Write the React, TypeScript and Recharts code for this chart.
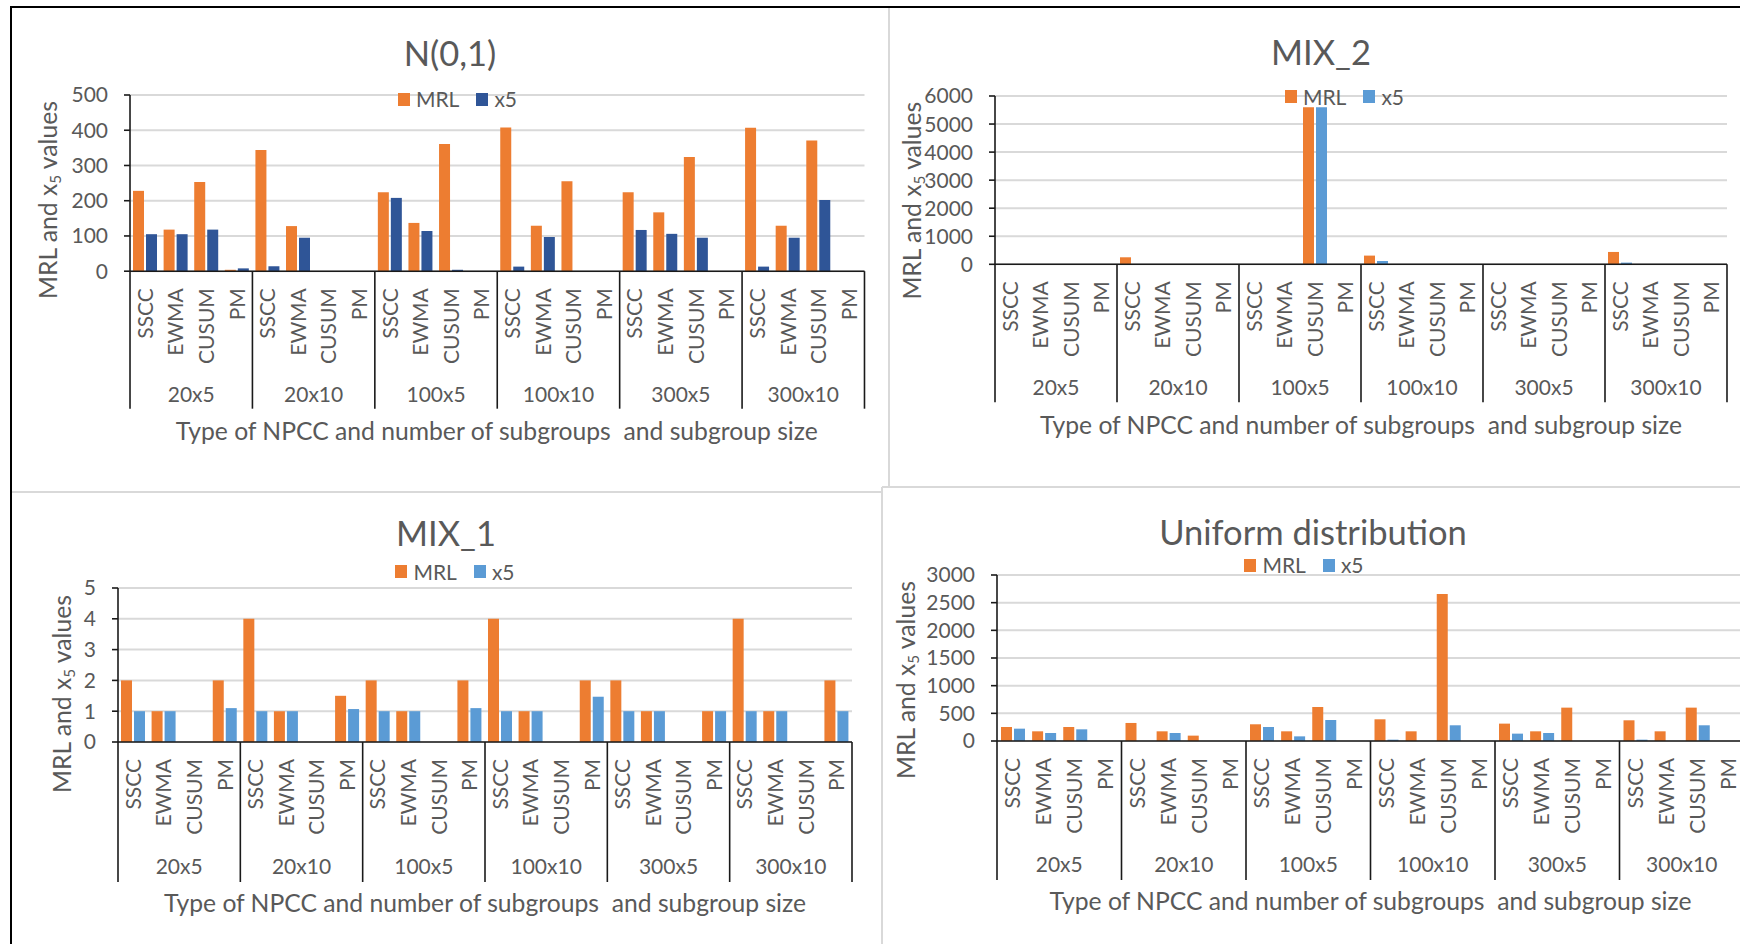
import React from 'react';
import { BarChart, Bar, XAxis, YAxis, CartesianGrid, Legend } from 'recharts';

const FONT = 'Lato, "Open Sans", sans-serif';
const TEXT = '#595959';
const ORANGE = '#ED7D31';
const DARK_BLUE = '#2F5597';
const LIGHT_BLUE = '#5B9BD5';

// categories
const methods = ['SSCC', 'EWMA', 'CUSUM', 'PM'];
const groups = ['20x5', '20x10', '100x5', '100x10', '300x5', '300x10'];
const axisTitleText = 'Type of NPCC and number of subgroups  and subgroup size';

// N(0,1)
const n01MRL = [228, 118, 253, 4, 344, 128, 0, 0, 224, 137, 361, 0, 408, 129, 255, 0, 224, 167, 324, 0, 407, 129, 371, 0];
const n01X5 = [105, 105, 118, 8, 14, 95, 0, 0, 208, 114, 4, 0, 13, 97, 0, 0, 117, 106, 95, 0, 13, 95, 202, 0];
const n01Ticks = [0, 100, 200, 300, 400, 500];

// MIX_2
const mix2MRL = [0, 0, 0, 0, 250, 0, 0, 0, 0, 0, 5600, 0, 310, 0, 0, 0, 0, 0, 0, 0, 440, 0, 0, 0];
const mix2X5 = [0, 0, 0, 0, 0, 0, 0, 0, 0, 0, 5600, 0, 118, 0, 0, 0, 0, 0, 0, 0, 60, 0, 0, 0];
const mix2Ticks = [0, 1000, 2000, 3000, 4000, 5000, 6000];

// MIX_1
const mix1MRL = [2, 1, 0, 2, 4, 1, 0, 1.5, 2, 1, 0, 2, 4, 1, 0, 2, 2, 1, 0, 1, 4, 1, 0, 2];
const mix1X5 = [1, 1, 0, 1.1, 1, 1, 0, 1.07, 1, 1, 0, 1.1, 1, 1, 0, 1.47, 1, 1, 0, 1, 1, 1, 0, 1];
const mix1Ticks = [0, 1, 2, 3, 4, 5];

// Uniform distribution
const unifMRL = [253, 175, 253, 0, 326, 175, 97, 0, 302, 175, 615, 0, 392, 175, 2655, 0, 314, 175, 603, 0, 374, 175, 603, 0];
const unifX5 = [223, 145, 211, 0, 0, 145, 0, 0, 253, 84, 380, 0, 24, 0, 284, 0, 133, 145, 0, 0, 24, 0, 284, 0];
const unifTicks = [0, 500, 1000, 1500, 2000, 2500, 3000];

type Row = { key: string; group: string; method: string; MRL: number; x5: number };

function buildRows(mrl: number[], x5: number[]): Row[] {
  const rows: Row[] = [];
  groups.forEach((g, gi) =>
    methods.forEach((m, mi) => {
      const i = gi * methods.length + mi;
      rows.push({ key: `${g}|${m}`, group: g, method: m, MRL: mrl[i], x5: x5[i] });
    })
  );
  return rows;
}

type Layout = {
  plotLeft: number; plotRight: number; plotTop: number; baseline: number;
  groupY: number; sepBottom: number; axisTitleY: number;
  titleX: number; titleY: number; yTitleX: number; yTitleY: number;
  legendX: number; legendY: number;
};

const SIZE = { title: 34.5, axisTitle: 24.7, tick: 21, cat: 21, group: 21, legend: 21 };
const CAP = 0.717;

const L1: Layout = { plotLeft: 129.5, plotRight: 864, plotTop: 95.3, baseline: 271.5, groupY: 394.5, sepBottom: 409, axisTitleY: 431, titleX: 450, titleY: 53.8, yTitleX: 48.3, yTitleY: 200, legendX: 457.5, legendY: 99.3 };
const L2: Layout = { plotLeft: 995, plotRight: 1727, plotTop: 95.7, baseline: 264, groupY: 386.7, sepBottom: 402, axisTitleY: 424.7, titleX: 1321, titleY: 52.5, yTitleX: 911.8, yTitleY: 200.7, legendX: 1344.5, legendY: 96.7 };
const L3: Layout = { plotLeft: 118, plotRight: 852, plotTop: 588, baseline: 742, groupY: 866, sepBottom: 882, axisTitleY: 903, titleX: 446, titleY: 533.7, yTitleX: 61.9, yTitleY: 694, legendX: 455, legendY: 571.7 };
const L4: Layout = { plotLeft: 997, plotRight: 1744, plotTop: 575, baseline: 741, groupY: 864, sepBottom: 880, axisTitleY: 901, titleX: 1313, titleY: 532.5, yTitleX: 906.3, yTitleY: 680, legendX: 1304, legendY: 565 };

const LegendContent = (props: any) => {
  const payload = props.payload || [];
  return (
    <div style={{ display: 'flex', alignItems: 'center', justifyContent: 'center', height: 30, lineHeight: '30px', fontFamily: FONT, fontSize: SIZE.legend, color: TEXT, whiteSpace: 'nowrap' }}>
      {payload.map((e: any, i: number) => (
        <span key={i} style={{ display: 'inline-flex', alignItems: 'center', marginLeft: i ? 17 : 0 }}>
          <span style={{ width: 12, height: 13, background: e.color, display: 'inline-block', marginRight: 6 }} />
          {e.value}
        </span>
      ))}
    </div>
  );
};

function Panel({ mrl, x5, ticks, x5Color, L }: { mrl: number[]; x5: number[]; ticks: number[]; x5Color: string; L: Layout }) {
  const rows = buildRows(mrl, x5);
  const marginLeft = 40, yW = 60, marginTop = 30, marginRight = 10;
  const chartLeft = L.plotLeft - marginLeft - yW;
  const chartTop = L.plotTop - marginTop;
  const xH = L.sepBottom - L.baseline + 6;
  const height = marginTop + (L.baseline - L.plotTop) + xH;
  const width = L.plotRight - chartLeft + marginRight;
  const band = (L.plotRight - L.plotLeft) / rows.length;
  const capC = SIZE.cat * CAP;
  const n = rows.length;

  const renderTick = (p: any) => {
    const { x, y, payload, index } = p;
    const [g, m] = String(payload.value).split('|');
    const sepLen = L.sepBottom - L.baseline;
    return (
      <g>
        <text transform={`translate(${x + capC / 2},${y + 17}) rotate(-90)`} textAnchor="end" fontFamily={FONT} fontSize={SIZE.cat} fill={TEXT}>
          {m}
        </text>
        {index % methods.length === 0 && (
          <line x1={x - band / 2} x2={x - band / 2} y1={y} y2={y + sepLen} stroke="#1a1a1a" strokeWidth={1.6} />
        )}
        {index === n - 1 && (
          <line x1={x + band / 2} x2={x + band / 2} y1={y} y2={y + sepLen} stroke="#1a1a1a" strokeWidth={1.6} />
        )}
        {index % methods.length === 1 && (
          <text x={x + band / 2} y={y + (L.groupY - L.baseline) + SIZE.group * CAP / 2} textAnchor="middle" fontFamily={FONT} fontSize={SIZE.group} fill={TEXT}>
            {g}
          </text>
        )}
      </g>
    );
  };

  return (
    <div style={{ position: 'absolute', left: chartLeft, top: chartTop, width, height }}>
      <BarChart width={width} height={height} data={rows} margin={{ top: marginTop, right: marginRight, left: marginLeft, bottom: 0 }} barGap={2}>
        <CartesianGrid vertical={false} stroke="#D9D9D9" strokeWidth={2} />
        <XAxis dataKey="key" interval={0} tickLine={false} tickSize={0} tickMargin={0} height={xH} axisLine={{ stroke: '#1a1a1a', strokeWidth: 1.6 }} tick={renderTick} />
        <YAxis
          type="number"
          domain={[0, ticks[ticks.length - 1]]}
          ticks={ticks}
          interval={0}
          width={yW}
          tickSize={6}
          tickMargin={16}
          axisLine={{ stroke: '#1a1a1a', strokeWidth: 1.6 }}
          tickLine={{ stroke: '#1a1a1a', strokeWidth: 1.6 }}
          tick={{ fontFamily: FONT, fontSize: SIZE.tick, fill: TEXT }}
        />
        <Legend
          layout="horizontal"
          verticalAlign="middle"
          align="center"
          content={LegendContent}
          wrapperStyle={{ left: L.legendX - chartLeft - 120, top: L.legendY - chartTop - 15, width: 240, height: 30 }}
        />
        <Bar dataKey="MRL" name="MRL" fill={ORANGE} barSize={11} isAnimationActive={false} />
        <Bar dataKey="x5" name="x5" fill={x5Color} barSize={11} isAnimationActive={false} />
      </BarChart>
    </div>
  );
}

function Labels({ title, L }: { title: string; L: Layout }) {
  const yt = SIZE.axisTitle;
  return (
    <g fontFamily={FONT} fill={TEXT}>
      <text x={L.titleX} y={L.titleY + SIZE.title * CAP / 2} textAnchor="middle" fontSize={SIZE.title}>{title}</text>
      <text x={(L.plotLeft + L.plotRight) / 2} y={L.axisTitleY + yt * CAP / 2} textAnchor="middle" fontSize={yt} style={{ whiteSpace: 'pre' }}>{axisTitleText}</text>
      <text transform={`translate(${L.yTitleX + yt * CAP / 2},${L.yTitleY}) rotate(-90)`} textAnchor="middle" fontSize={yt}>
        MRL and x<tspan fontSize={yt * 0.62} dy={4}>5</tspan><tspan dy={-4}> values</tspan>
      </text>
    </g>
  );
}

export default function App() {
  const grey = '#D9D9D9';
  return (
    <div style={{ position: 'absolute', left: 0, top: 0, width: 1740, height: 944, overflow: 'hidden', background: '#fff' }}>
      <Panel mrl={n01MRL} x5={n01X5} ticks={n01Ticks} x5Color={DARK_BLUE} L={L1} />
      <Panel mrl={mix2MRL} x5={mix2X5} ticks={mix2Ticks} x5Color={LIGHT_BLUE} L={L2} />
      <Panel mrl={mix1MRL} x5={mix1X5} ticks={mix1Ticks} x5Color={LIGHT_BLUE} L={L3} />
      <Panel mrl={unifMRL} x5={unifX5} ticks={unifTicks} x5Color={LIGHT_BLUE} L={L4} />
      <svg width={1740} height={944} style={{ position: 'absolute', left: 0, top: 0, pointerEvents: 'none' }}>
        <Labels title="N(0,1)" L={L1} />
        <Labels title="MIX_2" L={L2} />
        <Labels title="MIX_1" L={L3} />
        <Labels title="Uniform distribution" L={L4} />
      </svg>
      {/* panel borders */}
      <div style={{ position: 'absolute', left: 888, top: 8, width: 2, height: 479, background: grey }} />
      <div style={{ position: 'absolute', left: 882, top: 486, width: 860, height: 2, background: grey }} />
      <div style={{ position: 'absolute', left: 881, top: 487, width: 2, height: 460, background: grey }} />
      <div style={{ position: 'absolute', left: 12, top: 491, width: 870, height: 2, background: grey }} />
      {/* outer black frame */}
      <div style={{ position: 'absolute', left: 10, top: 6, width: 1740, height: 950, borderTop: '2px solid #000', borderLeft: '2px solid #000', boxSizing: 'border-box' }} />
    </div>
  );
}
